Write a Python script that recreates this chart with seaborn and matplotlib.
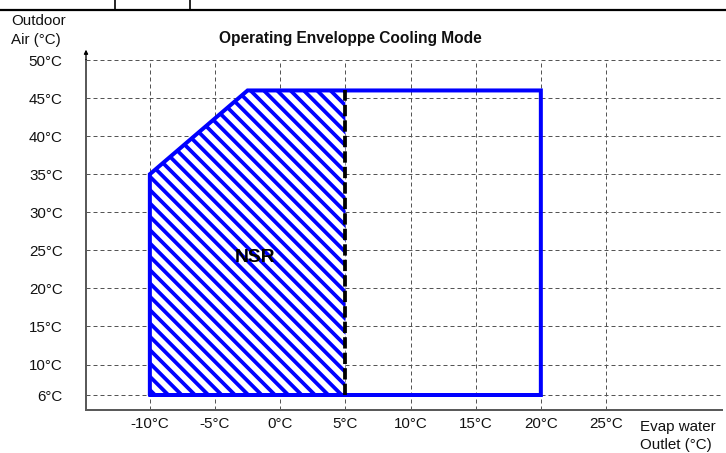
import matplotlib
matplotlib.use("Agg")
import matplotlib.pyplot as plt
import seaborn as sns
from matplotlib.lines import Line2D

# Operating envelope (evap water outlet °C vs outdoor air °C)
env_x = [-10, -10, -2.5, 20, 20, -10]
env_y = [6, 35, 46, 46, 6, 6]

# NSR (hatched) part of the envelope
nsr_x = [-10, -10, -2.5, 5, 5]
nsr_y = [6, 35, 46, 46, 6]

# boundary of NSR zone
nsr_edge_x = [5, 5]
nsr_edge_y = [6, 46]

x_ticks = [-10, -5, 0, 5, 10, 15, 20, 25]
y_ticks = [6, 10, 15, 20, 25, 30, 35, 40, 45, 50]
x_labels = [f"{v}°C" for v in x_ticks]
y_labels = [f"{v}°C" for v in y_ticks]

sns.set_style("white")
plt.rcParams['font.family'] = ['Liberation Sans', 'DejaVu Sans']
plt.rcParams['hatch.linewidth'] = 3.4

DPI = 80
fig = plt.figure(figsize=(726 / DPI, 453 / DPI), dpi=DPI)
ax = fig.add_axes([86 / 726, 43 / 453, 636 / 726, 350 / 453])

# hatched NSR area
ax.fill(nsr_x, nsr_y, facecolor='white', edgecolor='#0000ff', hatch='\\\\', linewidth=0, zorder=2)

# envelope outline
sns.lineplot(x=env_x, y=env_y, sort=False, estimator=None, color='#0000ff', linewidth=3.6, ax=ax, zorder=3)
for l in ax.lines:
    l.set_solid_joinstyle('miter')

# dashed NSR limit
sns.lineplot(x=nsr_edge_x, y=nsr_edge_y, sort=False, estimator=None, color='black', linewidth=3.4,
             linestyle=(0, (3, 1.1)), ax=ax, zorder=4)

ax.text(-1.9, 24, "NSR", fontsize=17.3, fontweight='bold', ha='center', va='center',
        color='black', zorder=5)

ax.set_xlim(-14.9, 33.9)
ax.set_ylim(4.03, 50)
ax.set_xticks(x_ticks)
ax.set_xticklabels(x_labels)
ax.set_yticks(y_ticks)
ax.set_yticklabels(y_labels)
ax.tick_params(axis='both', length=0, labelsize=13.6, colors='#111111')
ax.tick_params(axis='x', pad=6)
ax.tick_params(axis='y', pad=21)

ax.grid(True, color='#555555', linewidth=0.9, linestyle=(0, (4, 3)))
ax.set_axisbelow(True)

for side in ['top', 'right']:
    ax.spines[side].set_visible(False)
for side in ['left', 'bottom']:
    ax.spines[side].set_color('#5a5a5a')
    ax.spines[side].set_linewidth(1.8)

# arrow at the top of the y axis
ax.annotate("", xy=(0, 1.036), xytext=(0, 0.995), xycoords='axes fraction',
            arrowprops=dict(arrowstyle='-|>', color='black', lw=1.2, mutation_scale=7),
            annotation_clip=False)

# labels
fig.text(350 / 726, 1 - 39 / 453, "Operating Enveloppe Cooling Mode", fontsize=14,
         fontweight='bold', ha='center', va='center', color='#111111')
fig.text(11 / 726, 1 - 21 / 453, "Outdoor", fontsize=13.6, ha='left', va='center', color='#111111')
fig.text(11 / 726, 1 - 40 / 453, "Air (°C)", fontsize=13.6, ha='left', va='center', color='#111111')
fig.text(640 / 726, 1 - 427 / 453, "Evap water", fontsize=13.6, ha='left', va='center', color='#111111')
fig.text(640 / 726, 1 - 445 / 453, "Outlet (°C)", fontsize=13.6, ha='left', va='center', color='#111111')

# table border fragment at top of the page
ty = 1 - 9.5 / 453
fig.add_artist(Line2D([0, 1], [ty, ty], color='black', linewidth=2, transform=fig.transFigure))
for vx in [115 / 726, 190 / 726]:
    fig.add_artist(Line2D([vx, vx], [ty, 1], color='black', linewidth=1.5, transform=fig.transFigure))

fig.savefig("out.png", dpi=DPI)
